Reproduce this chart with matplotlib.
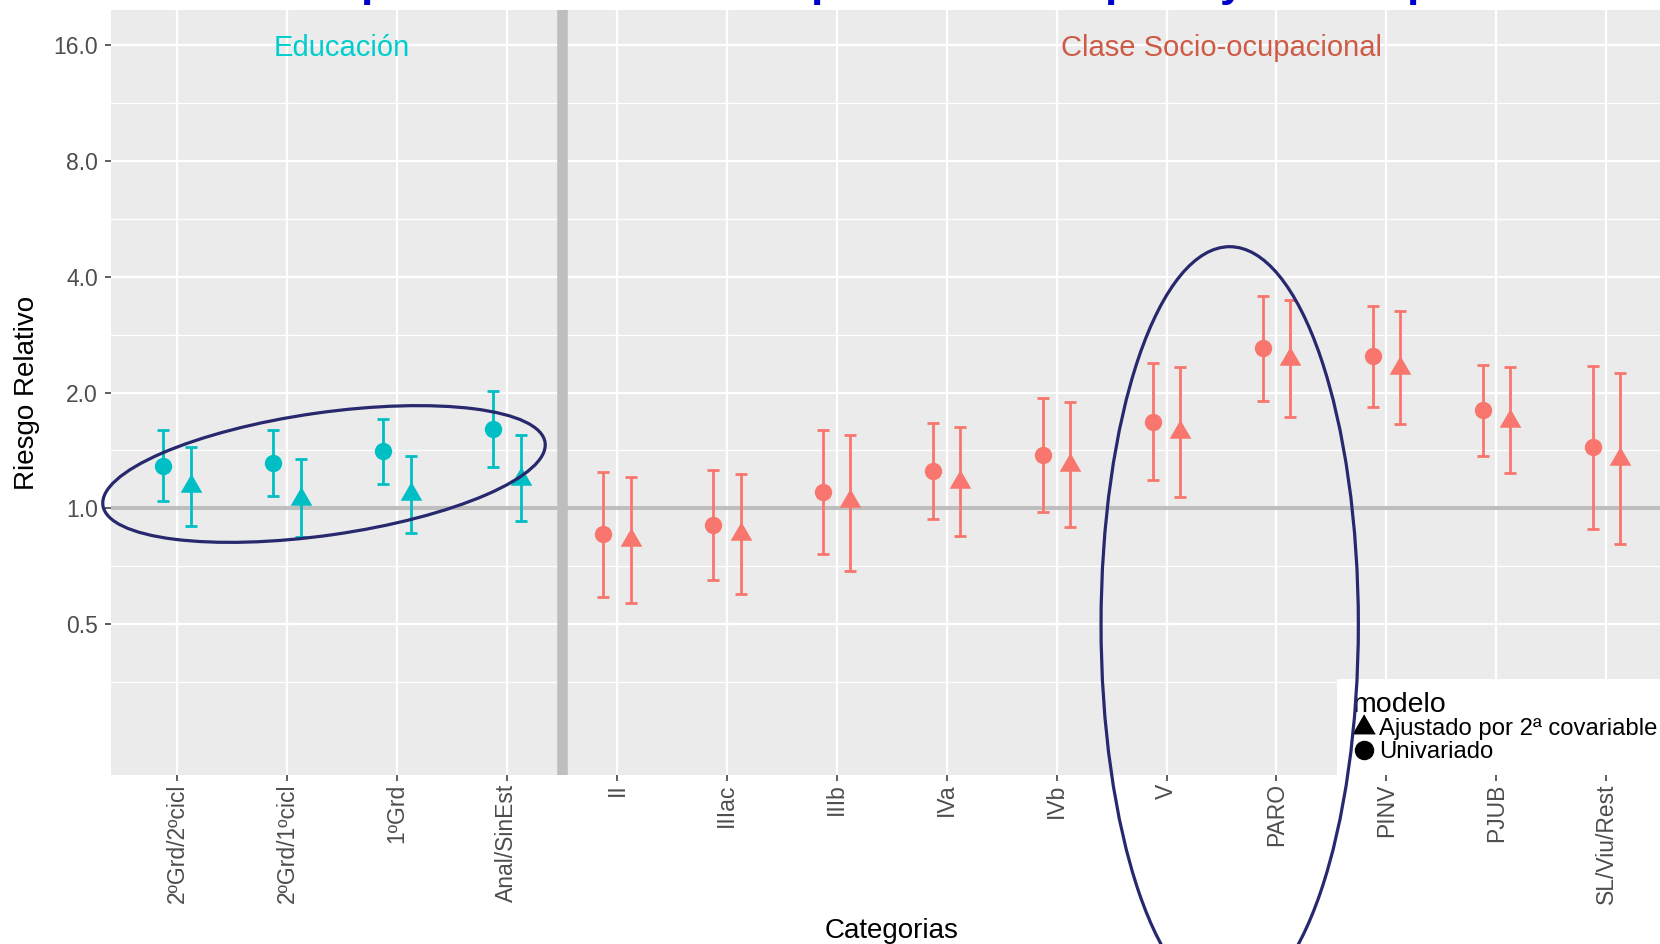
import numpy as np
import matplotlib
matplotlib.use("Agg")
import matplotlib.pyplot as plt
from matplotlib.patches import Ellipse, Rectangle
from matplotlib.transforms import Affine2D
from matplotlib.lines import Line2D
from matplotlib.ticker import FixedLocator, FixedFormatter

plt.rcParams['font.family'] = ['Liberation Sans', 'DejaVu Sans']

# ---------------- data ----------------
edu_cats = ["2ºGrd/2ºcicl", "2ºGrd/1ºcicl", "1ºGrd", "Anal/SinEst"]
soc_cats = ["II", "IIIac", "IIIb", "IVa", "IVb", "V", "PARO", "PINV", "PJUB", "SL/Viu/Rest"]

edu_uni_rr = [1.29, 1.31, 1.41, 1.61]
edu_uni_lo = [1.045, 1.08, 1.16, 1.28]
edu_uni_hi = [1.60, 1.60, 1.71, 2.02]
edu_adj_rr = [1.14, 1.06, 1.09, 1.19]
edu_adj_lo = [0.90, 0.845, 0.865, 0.925]
edu_adj_hi = [1.44, 1.34, 1.365, 1.55]

soc_uni_rr = [0.856, 0.907, 1.10, 1.25, 1.38, 1.68, 2.61, 2.49, 1.80, 1.44]
soc_uni_lo = [0.59, 0.652, 0.761, 0.938, 0.978, 1.184, 1.90, 1.836, 1.367, 0.882]
soc_uni_hi = [1.24, 1.26, 1.594, 1.662, 1.937, 2.388, 3.571, 3.35, 2.364, 2.346]
soc_adj_rr = [0.828, 0.856, 1.045, 1.168, 1.296, 1.575, 2.44, 2.313, 1.682, 1.343]
soc_adj_lo = [0.567, 0.60, 0.688, 0.847, 0.893, 1.072, 1.729, 1.655, 1.233, 0.81]
soc_adj_hi = [1.208, 1.225, 1.547, 1.632, 1.892, 2.332, 3.487, 3.265, 2.323, 2.25]

y_breaks = [0.5, 1.0, 2.0, 4.0, 8.0, 16.0]
y_minor = [0.354, 0.707, 1.414, 2.828, 5.657, 11.314]

model_labels = ["Ajustado por 2ª covariable", "Univariado"]
group_labels = ["Educación", "Clase Socio-ocupacional"]

# ---------------- style ----------------
W, H = 1660, 944
col_edu = "#00BFC4"
col_soc = "#F8766D"
navy = "#28286E"
tri = [(0, 1), (-0.866, -0.5), (0.866, -0.5)]

fig = plt.figure(figsize=(W / 100, H / 100), dpi=100)
fig.patch.set_facecolor("white")
ax = fig.add_axes([111.2 / W, 169 / H, 1561 / W, 765 / H])
ax.set_facecolor("#EBEBEB")
for s in ax.spines.values():
    s.set_visible(False)

ax.set_yscale("log", base=2)
ax.set_ylim(2 ** -2.3, 2 ** 4.3)
ax.set_xlim(0.4, 14.6)

cats = edu_cats + soc_cats
xpos = np.arange(1, len(cats) + 1)
ax.xaxis.set_major_locator(FixedLocator(xpos))
ax.xaxis.set_major_formatter(FixedFormatter(cats))
ax.yaxis.set_major_locator(FixedLocator(y_breaks))
ax.yaxis.set_major_formatter(FixedFormatter(["%.1f" % v for v in y_breaks]))
ax.yaxis.set_minor_locator(FixedLocator(y_minor))
ax.yaxis.set_minor_formatter(FixedFormatter([""] * len(y_minor)))

ax.grid(which="major", color="white", lw=1.6, zorder=0)
ax.grid(which="minor", axis="y", color="white", lw=0.9, zorder=0)
ax.set_axisbelow(True)

ax.tick_params(axis="both", which="major", length=4.0, width=1.1, color="#333333",
               labelsize=16.5, labelcolor="#4D4D4D")
ax.tick_params(axis="x", which="major", pad=2.0)
ax.tick_params(axis="y", which="major", pad=5.5)
ax.tick_params(axis="both", which="minor", length=0)
for lab in ax.get_xticklabels():
    lab.set_rotation(90)
    lab.set_ha("center")
    lab.set_va("top")

ax.axhline(1.0, color="#BEBEBE", lw=2.9, zorder=1.5)
ax.axvline(len(edu_cats) + 0.5, color="#BEBEBE", lw=7.6, zorder=1.5)

dodge = 0.125


def draw(x0, rr, lo, hi, col, marker, ms):
    rr = np.array(rr); lo = np.array(lo); hi = np.array(hi)
    ax.errorbar(x0, rr, yerr=[rr - lo, hi - rr], fmt="none", ecolor=col,
                elinewidth=2.0, capsize=4.2, capthick=2.0, zorder=3)
    ax.plot(x0, rr, linestyle="none", marker=marker, ms=ms, color=col,
            mec="none", zorder=4)


xe = np.arange(1, len(edu_cats) + 1)
xs = np.arange(len(edu_cats) + 1, len(cats) + 1)
draw(xe - dodge, edu_uni_rr, edu_uni_lo, edu_uni_hi, col_edu, "o", 12.5)
draw(xe + dodge, edu_adj_rr, edu_adj_lo, edu_adj_hi, col_edu, tri, 18)
draw(xs - dodge, soc_uni_rr, soc_uni_lo, soc_uni_hi, col_soc, "o", 12.5)
draw(xs + dodge, soc_adj_rr, soc_adj_lo, soc_adj_hi, col_soc, tri, 18)

ax.text(2.5, 16, group_labels[0], color="#00CDCD", fontsize=21,
        ha="center", va="center_baseline", zorder=5)
ax.text(10.5, 16, group_labels[1], color="#CD5B45", fontsize=21,
        ha="center", va="center_baseline", zorder=5)

ax.set_xlabel("Categorias", fontsize=20, color="black")
ax.xaxis.label.set_va("center")
ax.xaxis.set_label_coords(0.5, (775 - 931) / 765)
ax.set_ylabel("Riesgo Relativo", fontsize=20, color="black")
ax.yaxis.label.set_va("center")
ax.yaxis.set_label_coords((26.5 - 111.2) / 1561, 0.5)

# legend (bottom-right, cropped by the image edge)
fig.add_artist(Rectangle((1337 / W, 1 - 775 / H), (W - 1337) / W, (775 - 679) / H,
                         transform=fig.transFigure, facecolor="white",
                         edgecolor="none", zorder=4))
handles = [Line2D([], [], linestyle="none", marker=tri, ms=18, color="black"),
           Line2D([], [], linestyle="none", marker="o", ms=13, color="black")]
leg = fig.legend(handles, model_labels, title="modelo", loc="upper left",
                 bbox_to_anchor=(1352 / W, 1 - 692 / H), frameon=False,
                 fontsize=17.2, title_fontsize=20.5, handlelength=1.0,
                 handletextpad=0.12, labelspacing=0.02, borderpad=0,
                 borderaxespad=0, alignment="left")
leg.set_zorder(6)

# partially visible title descenders at the top edge
title_bits = [("p", 360, "left"), ("p", 810, "left"), ("p", 1104.5, "left"),
              ("y", 1232, "center"), ("p", 1406, "left")]
for ch, xp, ha in title_bits:
    fig.text(xp / W, 1 + 4 / H, ch, fontsize=32, fontweight="bold",
             color="#0000CD", ha=ha, va="baseline")

# hand-drawn highlight ellipses (pixel coordinates)
px = Affine2D().scale(1 / W, 1 / H) + fig.transFigure
fig.add_artist(Ellipse((324, H - 474), 446.6, 122.6, angle=8.1, transform=px,
                       fill=False, ec=navy, lw=2.3, zorder=10))
fig.add_artist(Ellipse((1229.7, H - 624.6), 257.3, 755.8, angle=0, transform=px,
                       fill=False, ec=navy, lw=2.3, zorder=10))

fig.savefig("out.png", dpi=100, facecolor="white")
